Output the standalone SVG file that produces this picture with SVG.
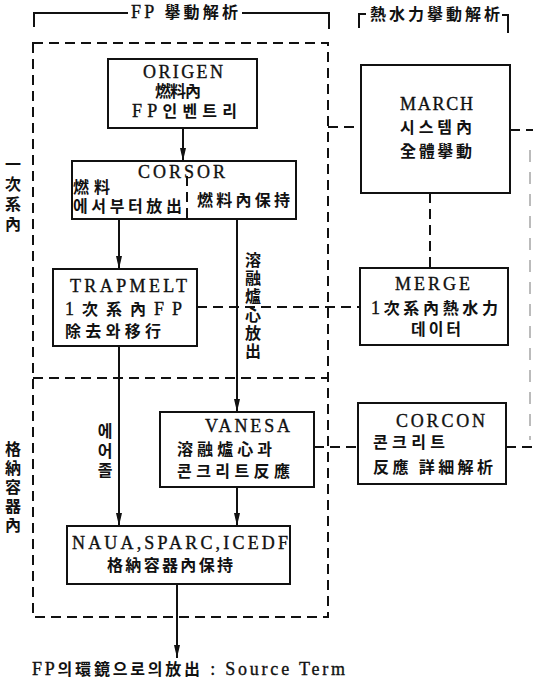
<svg xmlns="http://www.w3.org/2000/svg" width="533" height="681" viewBox="0 0 533 681">
<defs>
<style>
.box{fill:#fff;stroke:#111;stroke-width:2}
.ln{fill:none;stroke:#111;stroke-width:2}
.dash{fill:none;stroke:#111;stroke-width:2;stroke-dasharray:10 6}
.faint{fill:none;stroke:#bbb;stroke-width:2;stroke-dasharray:12 10}
.t{font-family:"Liberation Serif","Noto Sans CJK KR",serif;font-size:18px;fill:#111;stroke:#111;stroke-width:0.35}
.k{font-family:"Noto Sans CJK KR","Noto Sans CJK SC",sans-serif;font-weight:700;font-size:16px;stroke:none}
.v{font-family:"Noto Sans CJK KR","Noto Sans CJK SC",sans-serif;font-weight:700;font-size:16px;fill:#111;writing-mode:vertical-rl}
</style>
<marker id="arr" markerUnits="userSpaceOnUse" markerWidth="14" markerHeight="8" refX="13" refY="3.5" orient="auto">
<path d="M0,0.5 L13,3.5 L0,6.5 z" fill="#111"/>
</marker>
</defs>

<g id="frames">
<path class="ln" d="M34,27 V13 H128 M242,13 H329 V29"/>
<text class="t" x="131" y="18" textLength="107">FP <tspan class="k">擧動解析</tspan></text>
<path class="ln" d="M359,28 V14 H366 M502,15 H508 V33"/>
<text class="t" x="370" y="20" textLength="130"><tspan class="k">熱水力擧動解析</tspan></text>
<rect class="dash" x="33" y="43" width="295" height="574"/>
<line class="dash" x1="33" y1="378" x2="328" y2="378"/>
<text class="v" x="13" y="156" letter-spacing="4">一次系內</text>
<text class="v" x="13" y="441" letter-spacing="3">格納容器內</text>
</g>

<g id="connectors">
<line class="ln" x1="183" y1="128" x2="183" y2="161" marker-end="url(#arr)"/>
<line class="ln" x1="119" y1="219" x2="119" y2="269" marker-end="url(#arr)"/>
<line class="ln" x1="237" y1="219" x2="237" y2="412" marker-end="url(#arr)"/>
<line class="ln" x1="119" y1="346" x2="119" y2="526" marker-end="url(#arr)"/>
<line class="ln" x1="237" y1="487" x2="237" y2="526" marker-end="url(#arr)"/>
<line class="ln" x1="177" y1="584" x2="177" y2="658" marker-end="url(#arr)"/>
<line class="dash" x1="328" y1="127" x2="361" y2="127"/>
<line class="dash" x1="510" y1="130" x2="533" y2="130"/>
<line class="dash" x1="430" y1="193" x2="430" y2="268"/>
<line class="dash" x1="197" y1="307" x2="360" y2="307"/>
<line class="dash" x1="314" y1="447" x2="358" y2="447"/>
<line class="dash" x1="506" y1="447" x2="533" y2="447"/>
<line class="faint" x1="530" y1="150" x2="530" y2="440"/>
<text class="v" x="253" y="252" letter-spacing="2.2">溶融爐心放出</text>
<text class="v" x="105" y="423" letter-spacing="3.5">에어졸</text>
</g>

<g id="origen">
<rect class="box" x="108" y="59" width="149" height="69"/>
<text class="t" x="143" y="78" textLength="80">ORIGEN</text>
<text class="t" x="155" y="97" textLength="46"><tspan class="k" font-size="15">燃料內</tspan></text>
<text class="t" x="132" y="117" textLength="105">FP<tspan class="k">인벤트리</tspan></text>
</g>

<g id="corsor">
<rect class="box" x="72" y="161" width="224" height="58"/>
<line class="dash" x1="187" y1="176" x2="187" y2="219" stroke-dasharray="6 4"/>
<text class="t" x="138" y="178" textLength="87">CORSOR</text>
<text class="t" x="73" y="193" textLength="37"><tspan class="k">燃料</tspan></text>
<text class="t" x="73" y="212" textLength="109"><tspan class="k">에서부터放出</tspan></text>
<text class="t" x="197" y="206" textLength="93"><tspan class="k">燃料內保持</tspan></text>
</g>

<g id="trapmelt">
<rect class="box" x="53" y="269" width="144" height="77"/>
<text class="t" x="70" y="292" textLength="117">TRAPMELT</text>
<text class="t" x="65" y="315" textLength="117">1<tspan class="k">次系內</tspan>FP</text>
<text class="t" x="65" y="337" textLength="96"><tspan class="k">除去와移行</tspan></text>
</g>

<g id="vanesa">
<rect class="box" x="160" y="412" width="154" height="75"/>
<text class="t" x="205" y="432" textLength="85">VANESA</text>
<text class="t" x="177" y="455" textLength="95"><tspan class="k">溶融爐心과</tspan></text>
<text class="t" x="177" y="477" textLength="113"><tspan class="k">콘크리트反應</tspan></text>
</g>

<g id="naua">
<rect class="box" x="67" y="526" width="223" height="58"/>
<text class="t" x="72" y="549" textLength="216">NAUA,SPARC,ICEDF</text>
<text class="t" x="107" y="571" textLength="126"><tspan class="k">格納容器內保持</tspan></text>
</g>

<g id="march">
<rect class="box" x="361" y="65" width="149" height="128"/>
<text class="t" x="400" y="110" textLength="73">MARCH</text>
<text class="t" x="400" y="133" textLength="72"><tspan class="k">시스템內</tspan></text>
<text class="t" x="400" y="157" textLength="72"><tspan class="k">全體擧動</tspan></text>
</g>

<g id="merge">
<rect class="box" x="360" y="268" width="148" height="77"/>
<text class="t" x="395" y="290" textLength="75">MERGE</text>
<text class="t" x="371" y="314" textLength="127">1<tspan class="k">次系內熱水力</tspan></text>
<text class="t" x="411" y="335" textLength="50"><tspan class="k">데이터</tspan></text>
</g>

<g id="corcon">
<rect class="box" x="358" y="403" width="148" height="81"/>
<text class="t" x="396" y="427" textLength="89">CORCON</text>
<text class="t" x="373" y="448" textLength="72"><tspan class="k">콘크리트</tspan></text>
<text class="t" x="373" y="473" textLength="120"><tspan class="k">反應 詳細解析</tspan></text>
</g>

<g id="output">
<text class="t" x="32" y="675" textLength="313">FP<tspan class="k">의環鏡으로의放出</tspan> : Source Term</text>
</g>
</svg>
